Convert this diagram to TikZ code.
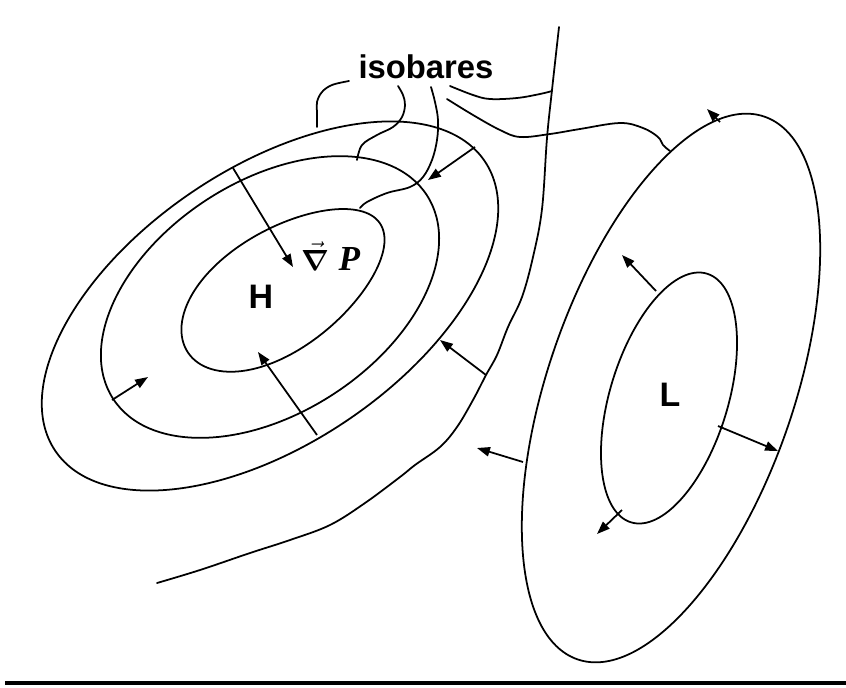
\documentclass[tikz,border=0pt]{standalone}
\usepackage{fontspec}
\setmainfont{Liberation Sans}
\newfontfamily\timesfont{Liberation Serif}
\usepackage{bm}
\usetikzlibrary{arrows.meta}

\begin{document}
\begin{tikzpicture}[x=0.03cm, y=-0.03cm,
  iso/.style={line width=1.5pt, line join=round, line cap=round},
  grad/.style={line width=1.5pt, -{Triangle[length=11pt,width=8pt]}},
  big/.style={font=\fontsize{29}{31}\selectfont\bfseries, inner sep=0pt, anchor=base},
  tag/.style={font=\fontsize{28}{30}\selectfont\bfseries, inner sep=0pt, anchor=base}]

\useasboundingbox (0,0) rectangle (846,687);

% ---- high pressure system: three closed isobars
\draw[iso, shift={(270,306)}, rotate=34] (0,0) ellipse [x radius=259, y radius=138];
\draw[iso, shift={(270,297)}, rotate=33] (0,0) ellipse [x radius=187, y radius=116];
\draw[iso, shift={(284,288)}, rotate=34]
  plot[domain=0:357, samples=120, smooth cycle, variable=\t]
  ({115.7*cos(\t)}, {59.5*sin(\t)*(1-0.1*cos(\t))});

% ---- low pressure system: two closed isobars
\draw[iso, shift={(671,388)}, rotate=71] (0,0) ellipse [x radius=287, y radius=123];
\draw[iso, shift={(669,398)}, rotate=73] (0,0) ellipse [x radius=130, y radius=59];

% ---- isobar between the two systems
\draw[iso] plot[smooth, tension=0.6] coordinates {
  (559,27) (552,90) (547,138) (542,209) (533,257) (522,297) (508,327)
  (497,355) (486,375) (473,400) (457,427) (440,447) (415,465) (400,477)
  (365,503) (330,525) (290,540) (250,553) (200,570) (157,583)};

% ---- label and its leader lines
\node[tag] (iso) at (426,78) {isobares};
\draw[iso] plot[smooth, tension=0.6] coordinates {
  (349,81) (332,85) (322,92) (317,102) (317,113) (317,127)};
\draw[iso] plot[smooth, tension=0.6] coordinates {
  (398,86) (403,95) (405,105) (402,117) (393,127) (377,135) (362,145) (357,160)};
\draw[iso] plot[smooth, tension=0.6] coordinates {
  (431,87) (435,102) (438,120) (437,140) (432,160) (423,177) (410,187)
  (387,193) (367,202) (360,208)};
\draw[iso] plot[smooth, tension=0.6] coordinates {
  (450,86) (473,95) (490,99) (517,98) (540,94) (552,91)};
\draw[iso] plot[smooth, tension=0.6] coordinates {
  (447,99) (473,115) (500,130) (520,137) (550,134) (580,129) (620,123)
  (643,128) (658,137) (663,145) (670,151)};

% ---- pressure labels
\node[big] (H) at (261,308) {H};
\node[big] (L) at (670,406) {L};
\node[inner sep=0pt, anchor=base, font=\fontsize{30}{32}\selectfont] (gradP) at (331,270)
  {$\vec{\bm{\nabla}}$\hspace{0.25em}{\timesfont\bfseries\itshape P}};

% ---- gradient arrows
\coordinate (a1s) at (233,168); \coordinate (a1e) at (293,267);
\coordinate (a2s) at (112,400); \coordinate (a2e) at (148,377);
\coordinate (a3s) at (317,435); \coordinate (a3e) at (258,352);
\coordinate (a4s) at (475,147); \coordinate (a4e) at (428,180);
\coordinate (a5s) at (486,375); \coordinate (a5e) at (440,340);
\coordinate (a6s) at (523,462); \coordinate (a6e) at (477,448);
\coordinate (a7s) at (656,291); \coordinate (a7e) at (622,255);
\coordinate (a8s) at (718,426); \coordinate (a8e) at (778,451);
\coordinate (a9s) at (622,510); \coordinate (a9e) at (597,534);
\coordinate (a10s) at (720,122); \coordinate (a10e) at (707,109);
\foreach \k in {1,...,10} \draw[grad] (a\k s) -- (a\k e);

% ---- base rule
\draw[line width=2.8pt] (5,683) -- (846,683);
\end{tikzpicture}
\end{document}
